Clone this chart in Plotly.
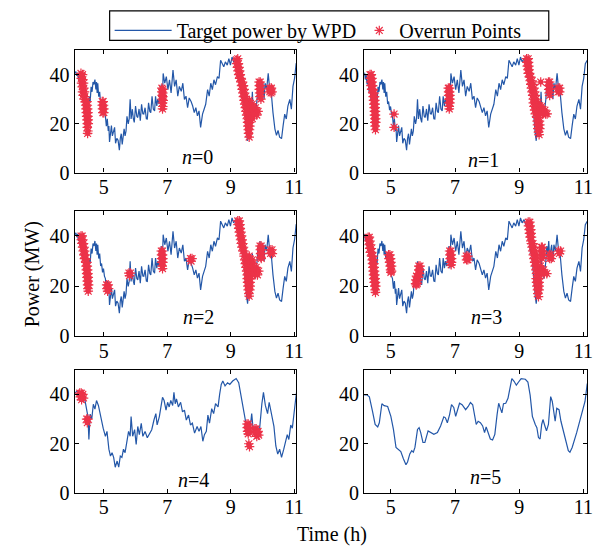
import plotly.graph_objects as go

# ---------------- data ----------------
# Target power by WPD (noisy) shared by n=0..3 : (time h, power MW)
wpd_noisy = [
    (4.08, 40.5), (4.12, 41.2), (4.15, 39.5), (4.18, 40.8), (4.20, 38.0), (4.23, 40.0), (4.26, 36.0),
    (4.29, 38.0), (4.32, 33.0), (4.35, 35.0), (4.38, 30.0), (4.41, 32.0), (4.43, 26.0), (4.45, 21.0),
    (4.47, 17.5), (4.49, 22.0), (4.51, 27.0), (4.54, 31.0), (4.57, 29.0), (4.60, 35.0), (4.63, 33.0),
    (4.66, 37.0), (4.69, 36.0), (4.72, 38.0), (4.75, 34.0), (4.77, 37.0), (4.79, 32.5), (4.81, 36.5),
    (4.84, 31.0), (4.87, 33.0), (4.90, 28.0), (4.93, 29.0), (4.96, 25.5), (4.99, 27.0), (5.02, 24.0),
    (5.05, 23.0), (5.08, 19.0), (5.11, 22.0), (5.14, 17.0), (5.16, 19.0), (5.18, 12.5), (5.21, 17.0),
    (5.24, 19.2), (5.27, 15.0), (5.30, 17.0), (5.34, 18.5), (5.37, 12.0), (5.41, 14.0), (5.45, 13.2),
    (5.49, 9.2), (5.52, 14.0), (5.55, 15.9), (5.58, 11.5), (5.61, 16.0), (5.64, 17.9), (5.67, 15.0),
    (5.70, 17.0), (5.73, 23.0), (5.77, 19.9), (5.80, 22.0), (5.83, 29.9), (5.86, 21.9), (5.90, 25.9),
    (5.93, 22.0), (5.96, 20.5), (6.00, 27.2), (6.04, 23.0), (6.07, 22.5), (6.11, 26.0), (6.15, 21.2),
    (6.19, 27.9), (6.23, 24.0), (6.26, 23.9), (6.30, 26.5), (6.34, 22.0), (6.37, 21.9), (6.41, 28.5),
    (6.45, 25.0), (6.48, 24.5), (6.52, 31.2), (6.56, 26.0), (6.60, 25.2), (6.63, 31.2), (6.67, 27.2),
    (6.70, 30.0), (6.74, 28.0), (6.78, 33.0), (6.81, 36.0), (6.84, 27.0), (6.87, 40.5), (6.92, 36.5),
    (6.97, 39.2), (7.02, 33.9), (7.07, 37.9), (7.12, 32.5), (7.18, 41.9), (7.23, 35.2), (7.28, 37.9),
    (7.33, 31.2), (7.38, 35.2), (7.44, 33.2), (7.49, 36.5), (7.54, 29.9), (7.59, 31.2), (7.64, 26.5),
    (7.69, 30.5), (7.75, 29.0), (7.80, 27.2), (7.85, 24.5), (7.90, 26.5), (7.95, 23.2), (8.00, 25.2),
    (8.05, 18.5), (8.11, 23.9), (8.16, 25.9), (8.21, 27.9), (8.27, 33.9), (8.32, 31.2), (8.37, 36.5),
    (8.42, 33.9), (8.47, 37.9), (8.52, 35.9), (8.58, 39.2), (8.63, 38.5), (8.68, 45.9), (8.73, 44.5),
    (8.78, 43.2), (8.83, 45.2), (8.89, 43.9), (8.94, 46.5), (8.99, 43.9), (9.04, 47.2), (9.09, 45.2),
    (9.15, 46.5), (9.20, 44.5), (9.24, 45.5), (9.28, 40.0), (9.32, 38.0), (9.35, 33.0), (9.38, 35.0),
    (9.42, 28.0), (9.45, 25.0), (9.48, 20.0), (9.50, 16.0), (9.53, 13.0), (9.56, 17.0), (9.59, 21.0),
    (9.62, 27.0), (9.65, 24.0), (9.68, 33.0), (9.71, 25.0), (9.74, 27.0), (9.77, 23.0), (9.80, 26.0),
    (9.83, 30.0), (9.86, 36.0), (9.89, 33.0), (9.92, 38.0), (9.95, 31.0), (9.98, 34.0), (10.01, 36.5),
    (10.05, 30.0), (10.08, 36.5), (10.13, 34.0), (10.18, 40.5), (10.23, 33.5), (10.28, 32.0),
    (10.33, 24.5), (10.39, 17.9), (10.44, 15.2), (10.49, 17.2), (10.54, 14.5), (10.60, 13.9),
    (10.65, 19.2), (10.70, 23.9), (10.75, 21.9), (10.80, 27.2), (10.86, 29.9), (10.91, 25.9),
    (10.96, 35.2), (11.01, 38.5), (11.06, 44.5), (11.12, 45.9),
]

# Target power by WPD for n=4
wpd_n4 = [
    (4.08, 40.5), (4.17, 41.4), (4.25, 38.8), (4.32, 40.0), (4.40, 38.0), (4.46, 33.5), (4.50, 31.0),
    (4.53, 21.7), (4.57, 32.0), (4.62, 30.0), (4.67, 36.0), (4.72, 34.0), (4.77, 37.5), (4.83, 35.5),
    (4.90, 31.0), (4.98, 26.3), (5.05, 23.0), (5.10, 25.0), (5.16, 17.8), (5.21, 15.0), (5.26, 16.4),
    (5.31, 14.5), (5.36, 10.5), (5.42, 13.0), (5.47, 10.5), (5.52, 15.0), (5.57, 14.5), (5.62, 17.8),
    (5.67, 16.4), (5.73, 21.7), (5.78, 25.0), (5.83, 23.0), (5.86, 31.0), (5.91, 23.0), (5.97, 25.7),
    (6.02, 19.7), (6.07, 27.0), (6.12, 23.7), (6.18, 28.3), (6.23, 23.0), (6.30, 25.0), (6.37, 22.4),
    (6.44, 24.3), (6.51, 25.7), (6.58, 29.6), (6.64, 32.2), (6.68, 27.6), (6.75, 31.0), (6.80, 34.9),
    (6.85, 38.8), (6.90, 37.5), (6.96, 33.6), (7.01, 36.8), (7.06, 34.9), (7.11, 37.5), (7.17, 35.5),
    (7.21, 40.8), (7.25, 36.2), (7.29, 38.2), (7.35, 34.9), (7.42, 36.8), (7.48, 32.9), (7.54, 33.6),
    (7.60, 29.6), (7.67, 31.6), (7.73, 27.6), (7.79, 28.3), (7.86, 24.3), (7.94, 27.0), (8.00, 25.0),
    (8.06, 27.0), (8.12, 21.0), (8.17, 23.7), (8.23, 25.0), (8.28, 31.6), (8.33, 28.3), (8.40, 34.2),
    (8.46, 32.2), (8.52, 36.2), (8.60, 34.9), (8.65, 40.1), (8.70, 44.0), (8.75, 45.4), (8.82, 43.4),
    (8.90, 44.7), (8.97, 44.0), (9.06, 45.4), (9.17, 46.4), (9.25, 44.7), (9.32, 40.1), (9.40, 34.2),
    (9.45, 30.3), (9.50, 26.3), (9.56, 23.7), (9.61, 26.3), (9.66, 32.2), (9.71, 25.0), (9.77, 27.0),
    (9.84, 25.0), (9.91, 26.3), (9.98, 36.2), (10.03, 40.8), (10.09, 35.5), (10.16, 32.2),
    (10.21, 36.8), (10.26, 33.6), (10.31, 29.6), (10.36, 27.0), (10.42, 19.1), (10.48, 15.8),
    (10.54, 17.8), (10.60, 14.5), (10.67, 17.8), (10.73, 21.0), (10.78, 23.7), (10.83, 21.7),
    (10.89, 27.6), (10.94, 26.3), (11.00, 34.9), (11.04, 37.5), (11.10, 43.5),
]

# Target power by WPD for n=5 (smooth)
wpd_n5 = [
    (4.12, 39.7), (4.25, 39.8), (4.33, 39.0), (4.38, 36.5), (4.43, 33.0), (4.51, 27.8), (4.59, 26.8),
    (4.64, 28.5), (4.72, 36.2), (4.79, 35.4), (4.90, 35.1), (5.00, 31.1), (5.08, 25.8), (5.16, 18.5),
    (5.31, 16.8), (5.39, 13.9), (5.47, 11.5), (5.52, 12.6), (5.59, 15.9), (5.65, 17.2), (5.70, 16.6),
    (5.75, 18.5), (5.83, 25.8), (5.88, 26.5), (5.93, 24.5), (6.00, 20.5), (6.06, 20.5), (6.16, 25.2),
    (6.24, 24.5), (6.34, 23.8), (6.45, 24.5), (6.55, 27.2), (6.65, 30.9), (6.70, 30.5), (6.76, 28.5),
    (6.83, 31.8), (6.89, 35.8), (6.96, 34.7), (7.02, 31.1), (7.07, 33.4), (7.14, 36.4), (7.22, 35.8),
    (7.33, 33.8), (7.41, 35.1), (7.48, 36.7), (7.55, 35.8), (7.61, 31.1), (7.66, 27.8), (7.72, 29.1),
    (7.79, 28.5), (7.86, 27.2), (7.92, 24.5), (7.97, 26.8), (8.03, 24.5), (8.10, 21.9), (8.17, 21.5),
    (8.24, 23.8), (8.31, 31.8), (8.36, 36.4), (8.41, 34.4), (8.46, 32.5), (8.51, 36.2), (8.58, 36.4),
    (8.65, 38.4), (8.72, 42.4), (8.77, 46.4), (8.84, 45.3), (8.91, 43.7), (8.98, 45.0), (9.06, 46.4),
    (9.19, 46.1), (9.27, 45.0), (9.34, 39.7), (9.41, 31.1), (9.50, 27.8), (9.55, 26.5), (9.60, 22.5),
    (9.65, 21.9), (9.70, 27.8), (9.74, 29.8), (9.80, 27.2), (9.85, 25.2), (9.91, 27.8), (9.98, 39.1),
    (10.03, 37.1), (10.09, 31.1), (10.12, 29.1), (10.17, 34.4), (10.24, 33.8), (10.30, 29.1),
    (10.37, 25.2), (10.45, 21.2), (10.53, 17.2), (10.58, 16.6), (10.65, 18.5), (10.79, 24.5),
    (10.92, 30.5), (11.05, 37.1), (11.12, 44.4),
]

# Overrun points per case (time h, power MW)
over_n0 = [
    (4.28, 40.5), (4.33, 40.0), (4.29, 38.5), (4.34, 38.0), (4.30, 36.5), (4.36, 36.5), (4.32, 35.0),
    (4.37, 34.5), (4.33, 33.0), (4.39, 33.0), (4.35, 31.5), (4.40, 31.0), (4.38, 30.0),
    (4.42, 29.0), (4.47, 29.0), (4.43, 27.5), (4.48, 27.5), (4.44, 26.0), (4.49, 26.0), (4.45, 24.5),
    (4.50, 24.5), (4.46, 23.0), (4.50, 23.0), (4.47, 21.5), (4.51, 21.5), (4.48, 20.0), (4.51, 20.0),
    (4.48, 18.5), (4.50, 17.0), (4.49, 16.0),
    (4.95, 29.0), (4.98, 29.0), (4.95, 27.5), (4.99, 27.5), (4.96, 26.0), (5.00, 26.0), (4.97, 24.5),
    (5.00, 24.5),
    (6.83, 34.5), (6.86, 34.0), (6.83, 33.0), (6.86, 32.5), (6.84, 31.5), (6.86, 31.0), (6.84, 30.0),
    (6.87, 29.5), (6.85, 28.5), (6.86, 27.0), (6.85, 26.0),
    (9.18, 46.0), (9.22, 46.5), (9.19, 44.5), (9.24, 44.5), (9.21, 43.0), (9.26, 43.0), (9.23, 41.5),
    (9.28, 41.5), (9.25, 40.0), (9.30, 40.0), (9.28, 38.5), (9.32, 38.5),
    (9.32, 37.0), (9.37, 37.0), (9.34, 35.5), (9.40, 35.5), (9.36, 34.0), (9.42, 34.0), (9.38, 32.5),
    (9.44, 32.5), (9.40, 31.0), (9.46, 31.0),
    (9.42, 29.5), (9.50, 29.5), (9.58, 29.5),
    (9.44, 28.0), (9.52, 28.0), (9.60, 28.0), (9.68, 28.0),
    (9.46, 26.5), (9.54, 26.5), (9.62, 26.5), (9.70, 26.5), (9.78, 26.5),
    (9.48, 25.0), (9.56, 25.0), (9.64, 25.0), (9.72, 25.0), (9.80, 25.0), (9.86, 25.0),
    (9.50, 23.5), (9.58, 23.5), (9.66, 23.5), (9.74, 23.5), (9.82, 23.5),
    (9.52, 22.0), (9.60, 22.0), (9.68, 22.0),
    (9.53, 20.5), (9.60, 20.5), (9.54, 19.0), (9.60, 19.0), (9.55, 17.5), (9.59, 17.5), (9.56, 16.0),
    (9.58, 14.5),
    (9.89, 37.0), (9.93, 37.0), (9.90, 35.5), (9.94, 35.5), (9.90, 34.0), (9.94, 34.0), (9.91, 32.5),
    (9.95, 32.5), (9.92, 31.0), (9.95, 30.0),
    (10.23, 34.5), (10.28, 34.5), (10.23, 33.0), (10.30, 33.0), (10.27, 32.5), (10.26, 33.8),
]
over_n1 = [
    (4.35, 40.0), (4.39, 40.0), (4.36, 38.5), (4.41, 38.5), (4.37, 37.0), (4.42, 37.0), (4.38, 35.5),
    (4.43, 35.5), (4.40, 34.0), (4.44, 34.0),
    (4.44, 32.5), (4.48, 32.5), (4.45, 31.0), (4.49, 31.0), (4.46, 29.5), (4.50, 29.5), (4.47, 28.0),
    (4.51, 28.0), (4.48, 26.5), (4.51, 26.5), (4.49, 25.0), (4.52, 25.0), (4.49, 23.5), (4.52, 23.5),
    (4.50, 22.0), (4.53, 22.0), (4.50, 20.5), (4.53, 20.5), (4.51, 19.0), (4.52, 17.5),
    (5.10, 23.9), (5.10, 18.5),
    (6.79, 34.5), (6.83, 34.5), (6.80, 33.0), (6.83, 33.0), (6.80, 31.5), (6.84, 31.5), (6.81, 30.0),
    (6.84, 30.0), (6.81, 28.5), (6.84, 28.5), (6.82, 27.0), (6.82, 26.0),
    (9.23, 46.5), (9.28, 46.5), (9.24, 45.0), (9.29, 45.0), (9.25, 43.5), (9.30, 43.5), (9.27, 42.0),
    (9.31, 42.0), (9.28, 40.5), (9.32, 40.5),
    (9.32, 39.0), (9.36, 39.0), (9.34, 37.5), (9.40, 37.5), (9.36, 36.0), (9.43, 36.0), (9.38, 34.5),
    (9.46, 34.5), (9.40, 33.0), (9.48, 33.0), (9.42, 31.5), (9.50, 31.5), (9.44, 30.0), (9.52, 30.0),
    (9.44, 28.5), (9.52, 28.5), (9.60, 28.5),
    (9.46, 27.0), (9.54, 27.0), (9.62, 27.0), (9.70, 27.0),
    (9.48, 25.5), (9.56, 25.5), (9.64, 25.5), (9.72, 25.5), (9.80, 25.5),
    (9.50, 24.0), (9.58, 24.0), (9.66, 24.0), (9.74, 24.0), (9.82, 24.0), (9.87, 24.0),
    (9.55, 22.5), (9.62, 22.5), (9.56, 21.0), (9.63, 21.0), (9.57, 19.5), (9.64, 19.5), (9.58, 18.0),
    (9.64, 18.0), (9.60, 16.5), (9.62, 15.5),
    (9.67, 37.0),
    (9.91, 37.0), (9.95, 37.0), (9.92, 35.5), (9.95, 35.5), (9.92, 34.0), (9.96, 34.0), (9.93, 32.5),
    (9.95, 31.5),
    (10.21, 34.5), (10.26, 34.5), (10.22, 33.0), (10.26, 33.0),
]
over_n2 = [
    (4.28, 40.0), (4.32, 40.0), (4.29, 38.5), (4.34, 38.5), (4.31, 37.0), (4.36, 37.0), (4.33, 35.5),
    (4.38, 35.5), (4.35, 34.0), (4.40, 34.0), (4.37, 32.5), (4.41, 32.5), (4.39, 31.0), (4.43, 31.0),
    (4.43, 29.5), (4.47, 29.5), (4.44, 28.0), (4.48, 28.0), (4.45, 26.5), (4.49, 26.5), (4.46, 25.0),
    (4.50, 25.0), (4.47, 23.5), (4.51, 23.5), (4.48, 22.0), (4.51, 22.0), (4.49, 20.5), (4.52, 20.5),
    (4.50, 19.0), (4.51, 18.0),
    (5.09, 20.5), (5.14, 20.5), (5.10, 19.0), (5.15, 19.0), (5.12, 18.0),
    (5.79, 25.2), (5.84, 25.2), (5.81, 24.2),
    (6.81, 34.0), (6.85, 34.0), (6.82, 32.5), (6.85, 32.5), (6.82, 31.0), (6.86, 31.0), (6.83, 29.5),
    (6.86, 29.5), (6.84, 28.0), (6.85, 27.0),
    (7.73, 31.0), (7.78, 31.0), (7.75, 30.0),
    (9.22, 46.0), (9.27, 46.0), (9.23, 44.5), (9.29, 44.5), (9.25, 43.0), (9.30, 43.0), (9.27, 41.5),
    (9.32, 41.5), (9.29, 40.0), (9.34, 40.0), (9.31, 38.5), (9.36, 38.5), (9.33, 37.0), (9.38, 37.0),
    (9.35, 35.5), (9.40, 35.5), (9.38, 34.0), (9.42, 34.0),
    (9.42, 32.0), (9.50, 32.0), (9.58, 32.0),
    (9.44, 30.5), (9.52, 30.5), (9.60, 30.5), (9.68, 30.5),
    (9.46, 29.0), (9.54, 29.0), (9.62, 29.0), (9.70, 29.0),
    (9.48, 27.5), (9.56, 27.5), (9.64, 27.5), (9.72, 27.5), (9.80, 27.5),
    (9.50, 26.0), (9.58, 26.0), (9.66, 26.0), (9.74, 26.0), (9.82, 26.0), (9.88, 26.0),
    (9.52, 24.5), (9.60, 24.5), (9.68, 24.5), (9.76, 24.5), (9.84, 24.5),
    (9.52, 23.0), (9.60, 23.0), (9.53, 21.5), (9.61, 21.5), (9.54, 20.0), (9.61, 20.0), (9.55, 18.5),
    (9.60, 18.5), (9.57, 17.0), (9.58, 16.0),
    (9.92, 36.0), (9.96, 36.0), (9.93, 34.5), (9.97, 34.5), (9.94, 33.0), (9.97, 33.0), (9.95, 31.5),
    (9.96, 31.0),
    (10.24, 34.5), (10.30, 34.5), (10.25, 33.0), (10.31, 33.0),
]
over_n3 = [
    (4.29, 39.5), (4.33, 39.5), (4.30, 38.0), (4.35, 38.0), (4.32, 36.5), (4.37, 36.5), (4.34, 35.0),
    (4.39, 35.0), (4.36, 33.5), (4.40, 33.5),
    (4.40, 32.0), (4.44, 32.0), (4.42, 30.5), (4.46, 30.5), (4.43, 29.0), (4.47, 29.0), (4.44, 27.5),
    (4.48, 27.5), (4.45, 26.0), (4.49, 26.0), (4.46, 24.5), (4.50, 24.5), (4.47, 23.0), (4.51, 23.0),
    (4.48, 21.5), (4.52, 21.5), (4.50, 20.0), (4.53, 20.0), (4.51, 18.5), (4.52, 17.5),
    (4.93, 32.5), (4.97, 32.5), (4.94, 31.0), (4.99, 31.0), (4.96, 29.5), (5.00, 29.5), (4.98, 28.0),
    (5.02, 28.0), (4.99, 26.5), (5.02, 26.0), (5.00, 25.5),
    (5.87, 28.0), (5.91, 28.0), (5.87, 26.5), (5.91, 26.5), (5.85, 25.0), (5.89, 25.0), (5.80, 24.0),
    (5.85, 23.5), (5.78, 22.5), (5.84, 22.5), (5.77, 21.0), (5.82, 21.0), (5.79, 20.5),
    (6.83, 34.0), (6.87, 34.0), (6.84, 32.5), (6.88, 32.5), (6.85, 31.0), (6.89, 31.0), (6.86, 29.5),
    (6.89, 29.5), (6.88, 28.5),
    (7.35, 32.0), (7.40, 32.0), (7.36, 30.5), (7.40, 30.5),
    (9.28, 45.5), (9.33, 45.5), (9.29, 44.0), (9.34, 44.0), (9.31, 42.5), (9.36, 42.5), (9.32, 41.0),
    (9.37, 41.0), (9.34, 39.5), (9.38, 39.5), (9.36, 38.0),
    (9.38, 37.0), (9.43, 37.0), (9.40, 35.5), (9.46, 35.5), (9.42, 34.0), (9.49, 34.0), (9.44, 32.5),
    (9.51, 32.5), (9.46, 31.0), (9.53, 31.0), (9.48, 29.5), (9.55, 29.5),
    (9.50, 28.0), (9.58, 28.0), (9.66, 28.0),
    (9.52, 26.5), (9.60, 26.5), (9.68, 26.5), (9.76, 26.5),
    (9.54, 25.0), (9.62, 25.0), (9.70, 25.0), (9.78, 25.0), (9.86, 25.0),
    (9.53, 23.0), (9.61, 23.0), (9.54, 21.5), (9.62, 21.5), (9.55, 20.0), (9.62, 20.0), (9.57, 18.5),
    (9.62, 18.5), (9.58, 17.0), (9.60, 15.8),
    (9.69, 35.5), (9.72, 35.5), (9.70, 34.0), (9.73, 34.0), (9.70, 32.5), (9.73, 32.5), (9.71, 31.0),
    (9.94, 32.5), (9.99, 32.5), (9.95, 31.0), (10.00, 31.0),
    (10.23, 34.0), (10.29, 34.0), (10.25, 33.0),
]
over_n4 = [
    (4.24, 40.5), (4.29, 40.5), (4.34, 40.0), (4.26, 39.0), (4.31, 39.0), (4.36, 38.5), (4.30, 37.8),
    (4.46, 30.0), (4.50, 30.0), (4.48, 28.5),
    (9.51, 28.0), (9.55, 28.0), (9.52, 26.5), (9.56, 26.5), (9.53, 25.0), (9.57, 25.0), (9.55, 24.0),
    (9.76, 26.0), (9.80, 26.0), (9.78, 24.5), (9.84, 24.5), (9.82, 23.0), (9.88, 23.5), (9.86, 25.0),
    (9.57, 20.0), (9.59, 18.8),
]

lines = [wpd_noisy, wpd_noisy, wpd_noisy, wpd_noisy, wpd_n4, wpd_n5]
overruns = [over_n0, over_n1, over_n2, over_n3, over_n4, []]
case_labels = ["0", "1", "2", "3", "4", "5"]

x_ticks = [5, 7, 9, 11]
y_ticks = [0, 20, 40]
x_ranges = [[4.08, 11.06], [4.17, 11.12]]

# ---------------- figure ----------------
W, H = 606, 552
BLUE = "#2357a8"
RED = "#ec3349"
FONT = "Liberation Serif"

col_px = [(67.5, 292.0), (361.0, 587.0)]
row_px = [(43.0, 168.0), (207.0, 335.0), (369.0, 495.0)]
label_px = [(192, 152), (482, 155), (193, 315), (485, 315), (188, 482), (484, 479)]

fig = go.Figure()
layout = dict(
    width=W, height=H,
    margin=dict(l=0, r=0, t=0, b=0),
    paper_bgcolor="white", plot_bgcolor="white",
    font=dict(family=FONT, size=20, color="black"),
    showlegend=True,
)
annotations = []
for i in range(6):
    r, c = divmod(i, 2)
    ax = "" if i == 0 else str(i + 1)
    x0, x1 = col_px[c]
    y0, y1 = row_px[r]
    common = dict(showgrid=False, zeroline=False, showline=True, linecolor="black", linewidth=1.4,
                  mirror="ticks", ticks="inside", ticklen=4, tickwidth=1, tickcolor="black",
                  tickfont=dict(family=FONT, size=20, color="black"))
    layout["xaxis" + ax] = dict(domain=[x0 / W, x1 / W], range=x_ranges[c], tickvals=x_ticks,
                                anchor="y" + ax, ticklabelstandoff=-4, **common)
    layout["yaxis" + ax] = dict(domain=[1 - y1 / H, 1 - y0 / H], range=[0, 50], tickvals=y_ticks,
                                anchor="x" + ax, **common)
    pts = lines[i]
    fig.add_trace(go.Scatter(
        x=[p[0] for p in pts], y=[p[1] for p in pts], mode="lines",
        line=dict(color=BLUE, width=1.2), name="Target power by WPD",
        showlegend=(i == 0), legend="legend", xaxis="x" + ax, yaxis="y" + ax, hoverinfo="skip"))
    ov = overruns[i]
    if ov:
        ox = [p[0] for p in ov]
        oy = [p[1] for p in ov]
        fig.add_trace(go.Scatter(
            x=ox, y=oy, mode="markers",
            marker=dict(symbol="circle", size=5, color=RED, line=dict(width=0)),
            showlegend=False, xaxis="x" + ax, yaxis="y" + ax, hoverinfo="skip"))
        fig.add_trace(go.Scatter(
            x=ox, y=oy, mode="markers",
            marker=dict(symbol="asterisk-open", size=8, color=RED, line=dict(color=RED, width=1.2)),
            name="Overrun Points", showlegend=(i == 0), legend="legend2",
            xaxis="x" + ax, yaxis="y" + ax, hoverinfo="skip"))
    lx, ly = label_px[i]
    annotations.append(dict(text="<i>n</i>=" + case_labels[i], x=lx / W, y=1 - ly / H,
                            xref="paper", yref="paper", showarrow=False,
                            xanchor="center", yanchor="middle",
                            font=dict(family=FONT, size=20, color="black")))

annotations.append(dict(text="Power (MW)", x=25 / W, y=1 - 272 / H, xref="paper", yref="paper",
                        showarrow=False, textangle=-90, xanchor="center", yanchor="middle",
                        font=dict(family=FONT, size=20, color="black")))
annotations.append(dict(text="Time (h)", x=328 / W, y=1 - 537 / H, xref="paper", yref="paper",
                        showarrow=False, xanchor="center", yanchor="middle",
                        font=dict(family=FONT, size=20, color="black")))
layout["annotations"] = annotations
layout["legend"] = dict(orientation="h", x=103 / W, y=1 - 3 / H, xanchor="left", yanchor="top",
                        borderwidth=0, bgcolor="rgba(0,0,0,0)",
                        font=dict(family=FONT, size=20, color="black"), itemwidth=57)
layout["legend2"] = dict(orientation="h", x=356 / W, y=1 - 3 / H, xanchor="left", yanchor="top",
                         borderwidth=0, bgcolor="rgba(0,0,0,0)",
                         font=dict(family=FONT, size=20, color="black"), itemwidth=30)
layout["shapes"] = [dict(type="rect", xref="paper", yref="paper",
                         x0=103 / W, x1=548 / W, y0=1 - 33 / H, y1=1 - 3 / H,
                         line=dict(color="black", width=1.2), fillcolor="rgba(0,0,0,0)")]
fig.update_layout(**layout)
fig.write_html("out.html")
